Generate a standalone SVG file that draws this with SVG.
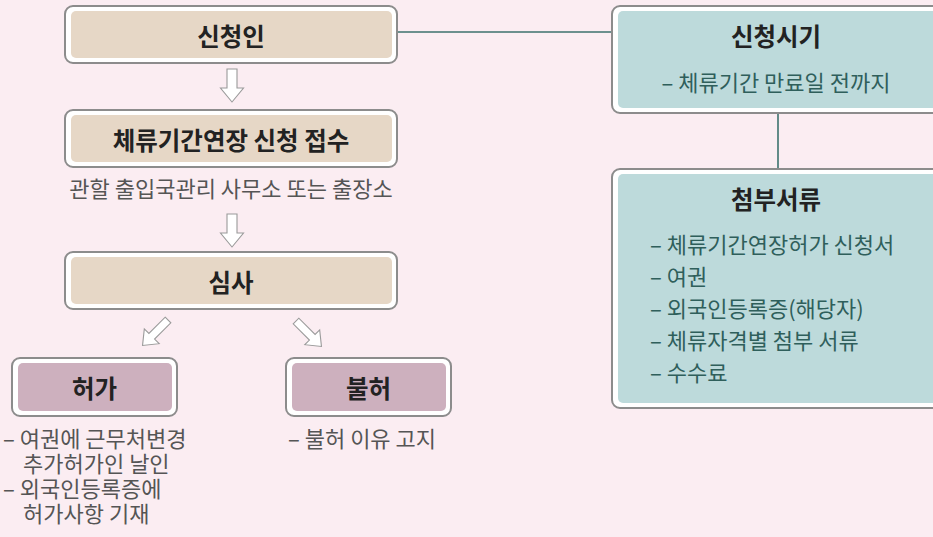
<svg xmlns="http://www.w3.org/2000/svg" width="933" height="537" viewBox="0 0 933 537">
<defs>
<style>
.bg{fill:#fbedf2}
.outer{fill:#ffffff;stroke:#8c8c8c;stroke-width:2}
.beige{fill:#e6d7c6}
.mauve{fill:#cdb0be}
.teal{fill:#bddadb}
text{font-family:"Noto Sans CJK KR","Noto Sans",sans-serif}
.title{font-size:24.5px;font-weight:bold;fill:#222222;text-anchor:middle;dominant-baseline:central}
.note{font-size:22px;fill:#555555;dominant-baseline:central}
.list{font-size:22px;fill:#2f5f5b;dominant-baseline:central}
.conn{stroke:#3d716d;stroke-width:1.6;fill:none}
.arrow{fill:#ffffff;stroke:#9a9a9a;stroke-width:1.1;stroke-linejoin:miter}
</style>
<path id="varrow" d="M-5,0 L5,0 L5,19 L11.5,19 L0,33 L-11.5,19 L-5,19 Z"/>
<path id="darrow" d="M-4,0 L4,0 L4,23 L10.5,23 L0,36 L-10.5,23 L-4,23 Z"/>
</defs>
<rect class="bg" x="0" y="0" width="933" height="537"/>

<g id="connectors">
<line class="conn" x1="397" y1="32" x2="612" y2="32"/>
<line class="conn" x1="778" y1="113" x2="778" y2="169"/>
<use href="#varrow" class="arrow" transform="translate(232,69)"/>
<use href="#varrow" class="arrow" transform="translate(232,214)"/>
<use href="#darrow" class="arrow" transform="translate(168,320) rotate(45)"/>
<use href="#darrow" class="arrow" transform="translate(296,321) rotate(-45)"/>
</g>

<g id="applicant">
<rect class="outer" x="65" y="6" width="332" height="57" rx="8"/>
<rect class="beige" x="71" y="11" width="321" height="47" rx="5"/>
<text class="title" x="231" y="35">신청인</text>
</g>

<g id="reception">
<rect class="outer" x="65" y="110" width="332" height="57" rx="8"/>
<rect class="beige" x="71" y="115" width="321" height="47" rx="5"/>
<text class="title" x="231" y="139">체류기간연장 신청 접수</text>
<text class="note" x="231" y="187" text-anchor="middle">관할 출입국관리 사무소 또는 출장소</text>
</g>

<g id="review">
<rect class="outer" x="65" y="252" width="332" height="57" rx="8"/>
<rect class="beige" x="71" y="257" width="321" height="47" rx="5"/>
<text class="title" x="231" y="281">심사</text>
</g>

<g id="approve">
<rect class="outer" x="12" y="358" width="165" height="58" rx="8"/>
<rect class="mauve" x="18" y="363" width="154" height="48" rx="5"/>
<text class="title" x="94.5" y="387">허가</text>
<text class="note" x="3" y="437"><tspan x="3" y="437">– 여권에 근무처변경</tspan><tspan x="23" y="462">추가허가인 날인</tspan><tspan x="3" y="487">– 외국인등록증에</tspan><tspan x="23" y="512">허가사항 기재</tspan></text>
</g>

<g id="reject">
<rect class="outer" x="286" y="358" width="165" height="58" rx="8"/>
<rect class="mauve" x="292" y="363" width="154" height="48" rx="5"/>
<text class="title" x="368.5" y="387">불허</text>
<text class="note" x="288" y="437">– 불허 이유 고지</text>
</g>

<g id="period">
<rect class="outer" x="612" y="6" width="332" height="107" rx="8"/>
<rect class="teal" x="618" y="11" width="321" height="97" rx="5"/>
<text class="title" x="776" y="35">신청시기</text>
<text class="list" x="776" y="81" text-anchor="middle">– 체류기간 만료일 전까지</text>
</g>

<g id="documents">
<rect class="outer" x="612" y="169" width="332" height="239" rx="8"/>
<rect class="teal" x="618" y="174" width="321" height="229" rx="5"/>
<text class="title" x="776" y="198">첨부서류</text>
<text class="list" x="650" y="243">– 체류기간연장허가 신청서</text>
<text class="list" x="650" y="275">– 여권</text>
<text class="list" x="650" y="307">– 외국인등록증(해당자)</text>
<text class="list" x="650" y="339">– 체류자격별 첨부 서류</text>
<text class="list" x="650" y="371">– 수수료</text>
</g>
</svg>
